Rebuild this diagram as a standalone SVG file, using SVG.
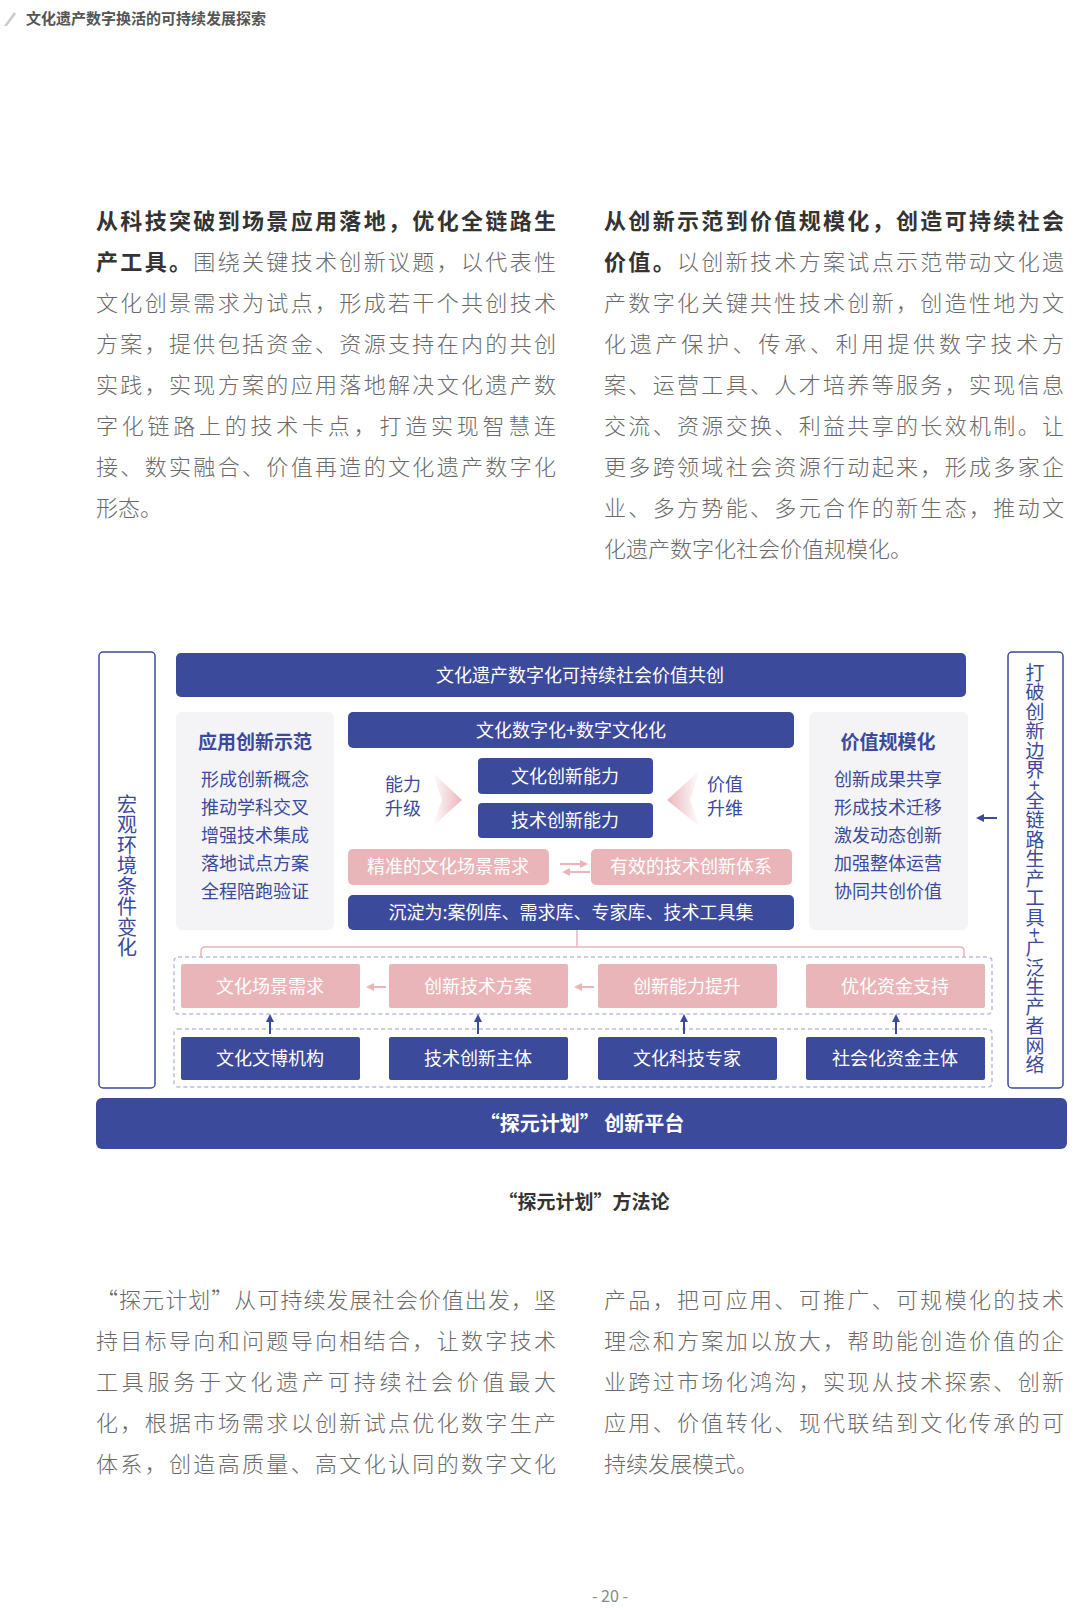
<svg xmlns="http://www.w3.org/2000/svg" width="1080" height="1620" viewBox="0 0 1080 1620">
<style>
text{font-family:"Noto Sans CJK SC","Noto Sans",sans-serif}
.p{font-size:22px;fill:#6a6a6a;font-weight:300}
.pb{font-weight:bold;fill:#333}
.nv{fill:#3c4a9c}
.pk{fill:#e9b5b9}
.gp{fill:#f4f4f6}
.wt{fill:#fff;font-size:18px;text-anchor:middle}
.it{fill:#3c4a9c;font-size:18px;text-anchor:middle}
.dash{fill:none;stroke:#b9bfdc;stroke-width:1.5;stroke-dasharray:4 3}
.vb{fill:#fff;stroke:#3c4a9c;stroke-width:1.5}
</style>
<defs>
<linearGradient id="gr" x1="0" x2="1" y1="0" y2="0"><stop offset="0" stop-color="#fff"/><stop offset="1" stop-color="#e9b5b9"/></linearGradient>
<linearGradient id="gl" x1="1" x2="0" y1="0" y2="0"><stop offset="0" stop-color="#fff"/><stop offset="1" stop-color="#e9b5b9"/></linearGradient>
<marker id="au" markerWidth="8" markerHeight="8" refX="4" refY="4" orient="auto" markerUnits="userSpaceOnUse"><path d="M0,0 L8,4 L0,8 z" fill="#3c4a9c"/></marker>
<marker id="ap" markerWidth="8" markerHeight="8" refX="4" refY="4" orient="auto" markerUnits="userSpaceOnUse"><path d="M0,0 L8,4 L0,8 z" fill="#e9b5b9"/></marker>
</defs>
<rect width="1080" height="1620" fill="#fff"/>
<path d="M4,26 L14,12 L16,14 L7,26 z" fill="#ccc"/>
<text x="26" y="24" font-size="15" font-weight="bold" fill="#555">文化遗产数字换活的可持续发展探索</text>

<g class="p">
<text x="96" y="229" textLength="460" lengthAdjust="spacing" class="pb">从科技突破到场景应用落地，优化全链路生</text>
<text x="96" y="270" textLength="460" lengthAdjust="spacing"><tspan class="pb">产工具。</tspan>围绕关键技术创新议题，以代表性</text>
<text x="96" y="311" textLength="460" lengthAdjust="spacing">文化创景需求为试点，形成若干个共创技术</text>
<text x="96" y="352" textLength="460" lengthAdjust="spacing">方案，提供包括资金、资源支持在内的共创</text>
<text x="96" y="393" textLength="460" lengthAdjust="spacing">实践，实现方案的应用落地解决文化遗产数</text>
<text x="96" y="434" textLength="460" lengthAdjust="spacing">字化链路上的技术卡点，打造实现智慧连</text>
<text x="96" y="475" textLength="460" lengthAdjust="spacing">接、数实融合、价值再造的文化遗产数字化</text>
<text x="96" y="516">形态。</text>
<text x="604" y="229" textLength="460" lengthAdjust="spacing" class="pb">从创新示范到价值规模化，创造可持续社会</text>
<text x="604" y="270" textLength="460" lengthAdjust="spacing"><tspan class="pb">价值。</tspan>以创新技术方案试点示范带动文化遗</text>
<text x="604" y="311" textLength="460" lengthAdjust="spacing">产数字化关键共性技术创新，创造性地为文</text>
<text x="604" y="352" textLength="460" lengthAdjust="spacing">化遗产保护、传承、利用提供数字技术方</text>
<text x="604" y="393" textLength="460" lengthAdjust="spacing">案、运营工具、人才培养等服务，实现信息</text>
<text x="604" y="434" textLength="460" lengthAdjust="spacing">交流、资源交换、利益共享的长效机制。让</text>
<text x="604" y="475" textLength="460" lengthAdjust="spacing">更多跨领域社会资源行动起来，形成多家企</text>
<text x="604" y="516" textLength="460" lengthAdjust="spacing">业、多方势能、多元合作的新生态，推动文</text>
<text x="604" y="557">化遗产数字化社会价值规模化。</text>
<text x="96" y="1308" textLength="460" lengthAdjust="spacing">“探元计划”从可持续发展社会价值出发，坚</text>
<text x="96" y="1349" textLength="460" lengthAdjust="spacing">持目标导向和问题导向相结合，让数字技术</text>
<text x="96" y="1390" textLength="460" lengthAdjust="spacing">工具服务于文化遗产可持续社会价值最大</text>
<text x="96" y="1431" textLength="460" lengthAdjust="spacing">化，根据市场需求以创新试点优化数字生产</text>
<text x="96" y="1472" textLength="460" lengthAdjust="spacing">体系，创造高质量、高文化认同的数字文化</text>
<text x="604" y="1308" textLength="460" lengthAdjust="spacing">产品，把可应用、可推广、可规模化的技术</text>
<text x="604" y="1349" textLength="460" lengthAdjust="spacing">理念和方案加以放大，帮助能创造价值的企</text>
<text x="604" y="1390" textLength="460" lengthAdjust="spacing">业跨过市场化鸿沟，实现从技术探索、创新</text>
<text x="604" y="1431" textLength="460" lengthAdjust="spacing">应用、价值转化、现代联结到文化传承的可</text>
<text x="604" y="1472">持续发展模式。</text>
</g>

<g id="left-side"><rect class="vb" x="99" y="652" width="56" height="436" rx="4"/>
<text x="127" y="794" font-size="20" fill="#3c4a9c" style="writing-mode:vertical-rl" letter-spacing="0.5">宏观环境条件变化</text></g>
<g id="right-side"><rect class="vb" x="1008" y="652" width="55" height="436" rx="4"/>
<text x="1035" y="663" font-size="19" fill="#3c4a9c" style="writing-mode:vertical-rl" letter-spacing="0.5">打破创新边界+全链路生产工具+广泛生产者网络</text></g>

<g id="top"><rect class="nv" x="176" y="653" width="790" height="44" rx="5"/><text class="wt" x="580" y="682">文化遗产数字化可持续社会价值共创</text></g>

<g id="leftpanel"><rect class="gp" x="176" y="712" width="158" height="218" rx="6"/>
<text x="255" y="749" font-size="19" font-weight="bold" fill="#3c4a9c" text-anchor="middle">应用创新示范</text>
<text class="it" x="255" y="786">形成创新概念</text><text class="it" x="255" y="814">推动学科交叉</text><text class="it" x="255" y="842">增强技术集成</text><text class="it" x="255" y="870">落地试点方案</text><text class="it" x="255" y="898">全程陪跑验证</text></g>

<g id="rightpanel"><rect class="gp" x="809" y="712" width="159" height="218" rx="6"/>
<text x="888" y="749" font-size="19" font-weight="bold" fill="#3c4a9c" text-anchor="middle">价值规模化</text>
<text class="it" x="888" y="786">创新成果共享</text><text class="it" x="888" y="814">形成技术迁移</text><text class="it" x="888" y="842">激发动态创新</text><text class="it" x="888" y="870">加强整体运营</text><text class="it" x="888" y="898">协同共创价值</text></g>

<g id="dual"><rect class="nv" x="348" y="712" width="446" height="36" rx="5"/><text class="wt" x="571" y="737">文化数字化+数字文化化</text></g>
<g id="c1"><rect class="nv" x="478" y="758" width="175" height="36" rx="4"/><text class="wt" x="565" y="783">文化创新能力</text></g>
<g id="c2"><rect class="nv" x="478" y="803" width="175" height="35" rx="4"/><text class="wt" x="565" y="827">技术创新能力</text></g>
<g id="up1"><text class="it" x="403" y="791">能力</text><text class="it" x="403" y="815">升级</text><path d="M432,772 L462,800 L432,827 L442,800 z" fill="url(#gr)"/></g>
<g id="up2"><text class="it" x="725" y="791">价值</text><text class="it" x="725" y="815">升维</text><path d="M700,770 L667,800 L700,827 L690,800 z" fill="url(#gl)"/></g>
<g id="need"><rect class="pk" x="348" y="849" width="201" height="36" rx="5"/><text class="wt" x="448" y="873">精准的文化场景需求</text></g>
<g id="sys"><rect class="pk" x="591" y="849" width="201" height="36" rx="5"/><text class="wt" x="691" y="873">有效的技术创新体系</text></g>
<g id="sink"><rect class="nv" x="348" y="895" width="446" height="35" rx="5"/><text class="wt" x="571" y="919">沉淀为:案例库、需求库、专家库、技术工具集</text></g>

<g id="row1">
<rect class="dash" x="174" y="957" width="818" height="57" rx="4"/>
<rect class="pk" x="181" y="964" width="179" height="44" rx="2"/><text class="wt" x="270" y="993">文化场景需求</text>
<rect class="pk" x="389" y="964" width="179" height="44" rx="2"/><text class="wt" x="478" y="993">创新技术方案</text>
<rect class="pk" x="598" y="964" width="179" height="44" rx="2"/><text class="wt" x="687" y="993">创新能力提升</text>
<rect class="pk" x="806" y="964" width="179" height="44" rx="2"/><text class="wt" x="895" y="993">优化资金支持</text>
</g>
<g id="row2">
<rect class="dash" x="174" y="1029" width="818" height="58" rx="4"/>
<rect class="nv" x="181" y="1037" width="179" height="43" rx="2"/><text class="wt" x="270" y="1065">文化文博机构</text>
<rect class="nv" x="389" y="1037" width="179" height="43" rx="2"/><text class="wt" x="478" y="1065">技术创新主体</text>
<rect class="nv" x="598" y="1037" width="179" height="43" rx="2"/><text class="wt" x="687" y="1065">文化科技专家</text>
<rect class="nv" x="806" y="1037" width="179" height="43" rx="2"/><text class="wt" x="895" y="1065">社会化资金主体</text>
</g>
<g id="platform"><rect class="nv" x="96" y="1098" width="971" height="51" rx="6"/><text x="582" y="1131" font-size="20" font-weight="bold" fill="#fff" text-anchor="middle">“探元计划” 创新平台</text></g>

<g id="connectors" fill="none">
<path d="M997,818 L980,818" stroke="#3c4a9c" stroke-width="2" marker-end="url(#au)"/>
<path d="M560,864 L584,864" stroke="#e9b5b9" stroke-width="2" marker-end="url(#ap)"/>
<path d="M590,872 L566,872" stroke="#e9b5b9" stroke-width="2" marker-end="url(#ap)"/>
<path d="M577,930 L577,947 M201,957 L201,951 Q201,947 205,947 L960,947 Q964,947 964,951 L964,957" stroke="#e9b5b9" stroke-width="1.5"/>
<path d="M386,987 L370,987" stroke="#e9b5b9" stroke-width="2" marker-end="url(#ap)"/>
<path d="M594,987 L578,987" stroke="#e9b5b9" stroke-width="2" marker-end="url(#ap)"/>
<path d="M270,1034 L270,1018" stroke="#3c4a9c" stroke-width="2" marker-end="url(#au)"/>
<path d="M478,1034 L478,1018" stroke="#3c4a9c" stroke-width="2" marker-end="url(#au)"/>
<path d="M684,1034 L684,1018" stroke="#3c4a9c" stroke-width="2" marker-end="url(#au)"/>
<path d="M896,1034 L896,1018" stroke="#3c4a9c" stroke-width="2" marker-end="url(#au)"/>
</g>

<text x="584" y="1209" font-size="19" font-weight="bold" fill="#333" text-anchor="middle">“探元计划”方法论</text>
<text x="610" y="1602" font-size="16" fill="#888" text-anchor="middle">- 20 -</text>
</svg>
